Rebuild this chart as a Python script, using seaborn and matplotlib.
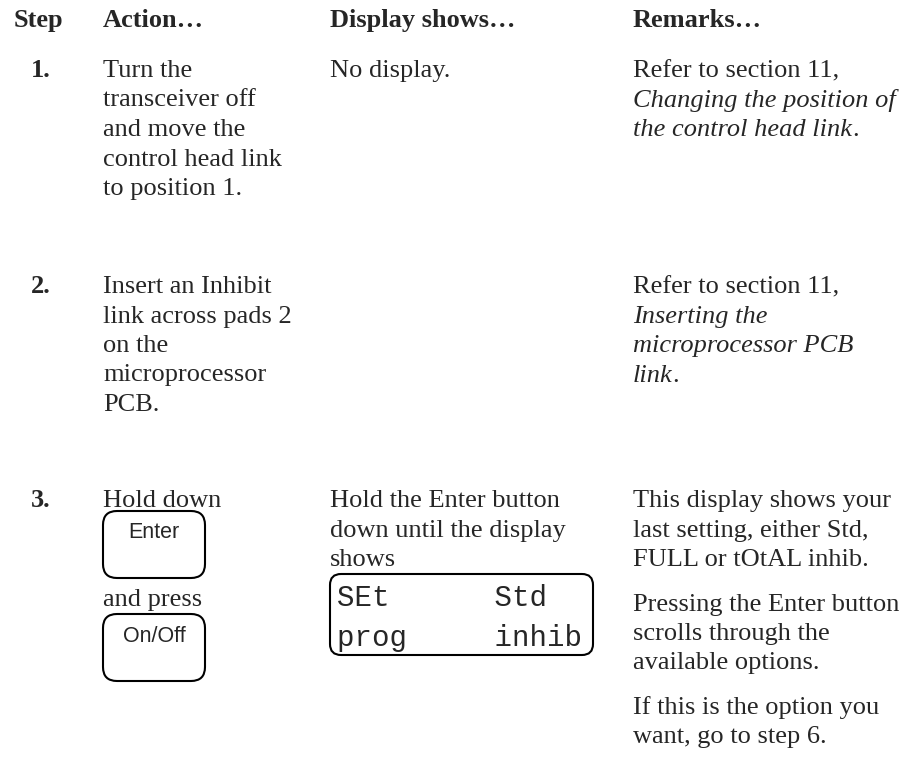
import matplotlib
matplotlib.use("Agg")
import matplotlib.pyplot as plt
import seaborn as sns
from matplotlib.patches import FancyBboxPatch

sns.set_theme(style="white")
plt.rcParams['font.family'] = ['Liberation Serif', 'DejaVu Serif']

# ---- content ----
headers = ["Step", "Action…", "Display shows…", "Remarks…"]
col_x = [14, 103, 330, 633]
step_labels = ["1.", "2.", "3."]
step_y = [77, 293, 507]          # baseline of first line of each step
line_h = 29.5
para_gap = 15

action_text = [
    ["Turn the", "transceiver off", "and move the", "control head link", "to position 1."],
    ["Insert an Inhibit", "link across pads 2", "on the", "microprocessor", "PCB."],
    ["Hold down"],
]
display_text = [
    ["No display."],
    [],
    ["Hold the Enter button", "down until the display", "shows"],
]
# (text, italic, trailing roman text)
remarks_text = [
    [("Refer to section 11,", False, ""), ("Changing the position of", True, ""),
     ("the control head link", True, ".")],
    [("Refer to section 11,", False, ""), ("Inserting the", True, ""),
     ("microprocessor PCB", True, ""), ("link", True, ".")],
]
remarks_step3 = [
    ["This display shows your", "last setting, either Std,", "FULL or tOtAL inhib."],
    ["Pressing the Enter button", "scrolls through the", "available options."],
    ["If this is the option you", "want, go to step 6."],
]
buttons = ["Enter", "On/Off"]
lcd_rows = ["SEt      Std", "prog     inhib"]

FS = 19

fig = plt.figure(figsize=(9.04, 7.6), dpi=100)
ax = fig.add_axes([0, 0, 1, 1])
ax.set_xlim(0, 904)
ax.set_ylim(760, 0)
ax.axis("off")

for x, h in zip(col_x, headers):
    ax.text(x, 27, h, fontsize=FS, fontweight="bold", va="baseline")

for lab, y0 in zip(step_labels, step_y):
    ax.text(31, y0, lab, fontsize=FS, fontweight="bold", va="baseline")

for lines, y0 in zip(action_text, step_y):
    for i, s in enumerate(lines):
        ax.text(col_x[1], y0 + i * line_h, s, fontsize=FS, va="baseline")

for lines, y0 in zip(display_text, step_y):
    for i, s in enumerate(lines):
        ax.text(col_x[2], y0 + i * line_h, s, fontsize=FS, va="baseline")

for parts, y0 in zip(remarks_text, step_y):
    for i, (s, ital, tail) in enumerate(parts):
        t = ax.text(col_x[3], y0 + i * line_h, s, fontsize=FS, va="baseline",
                    style="italic" if ital else "normal")
        if tail:
            ax.annotate(tail, xy=(1, 0), xycoords=t, fontsize=FS, va="bottom")

y = step_y[2]
for para in remarks_step3:
    for s in para:
        ax.text(col_x[3], y, s, fontsize=FS, va="baseline")
        y += line_h
    y += para_gap

# key caps as rounded boxes
btn_top = [511, 614]
for name, top in zip(buttons, btn_top):
    box = FancyBboxPatch((col_x[1], top), 102, 67,
                         boxstyle="round,pad=0,rounding_size=14",
                         fc="white", ec="black", lw=1.5)
    ax.add_patch(box)
    ax.text(col_x[1] + 51, top + 22, name, fontsize=15.5, family="Liberation Sans",
            ha="center", va="center")
ax.text(col_x[1], 606, "and press", fontsize=FS, va="baseline")

# LCD window
lcd = FancyBboxPatch((330, 574), 263, 81, boxstyle="round,pad=0,rounding_size=11",
                     fc="white", ec="black", lw=1.5)
ax.add_patch(lcd)
for i, row in enumerate(lcd_rows):
    ax.text(337, 606 + i * 40, row, fontsize=21, family="Liberation Mono",
            va="baseline")

fig.savefig("out.png", dpi=100, facecolor="white")
